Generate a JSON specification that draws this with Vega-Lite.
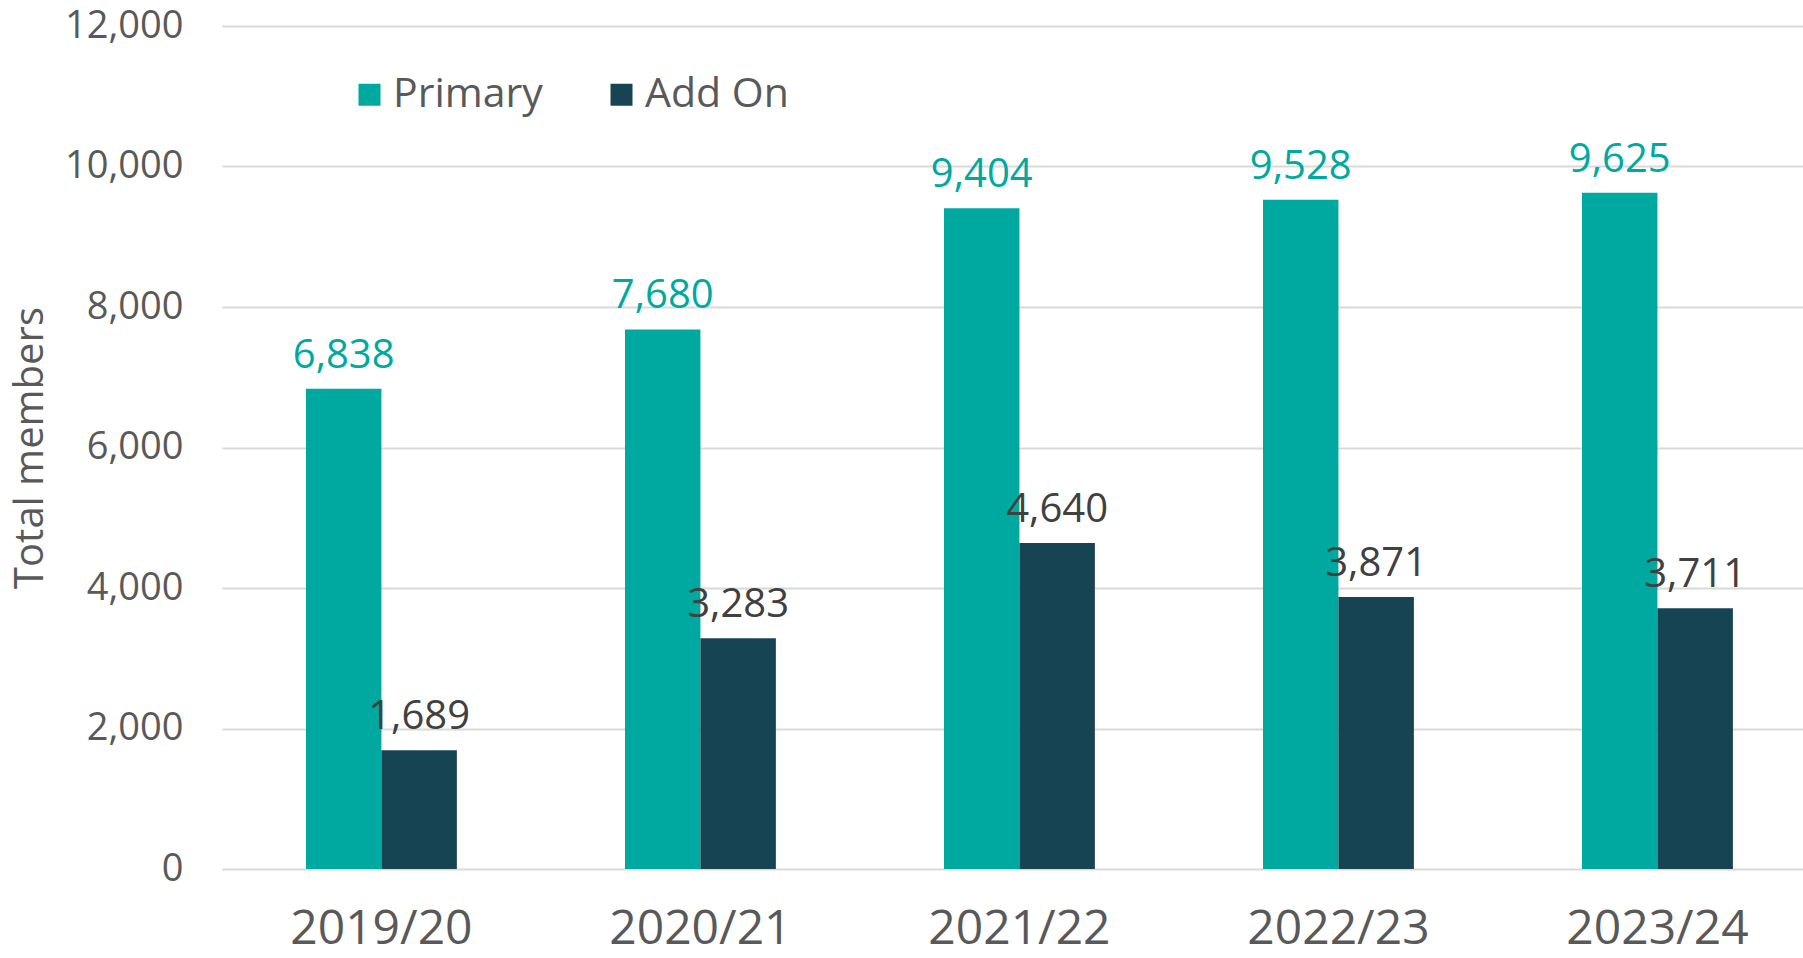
{
  "$schema": "https://vega.github.io/schema/vega-lite/v6.json",
  "autosize": {"type": "none"},
  "padding": {"left": 222, "top": 26, "right": 0, "bottom": 89},
  "width": 1581,
  "height": 843,
  "background": "white",
  "config": {
    "font": "Open Sans",
    "view": {"stroke": null},
    "axis": {"labelFont": "Open Sans", "titleFont": "Open Sans"}
  },
  "data": {
    "values": [
      {"year": "2019/20", "series": "Primary", "members": 6838},
      {"year": "2019/20", "series": "Add On", "members": 1689},
      {"year": "2020/21", "series": "Primary", "members": 7680},
      {"year": "2020/21", "series": "Add On", "members": 3283},
      {"year": "2021/22", "series": "Primary", "members": 9404},
      {"year": "2021/22", "series": "Add On", "members": 4640},
      {"year": "2022/23", "series": "Primary", "members": 9528},
      {"year": "2022/23", "series": "Add On", "members": 3871},
      {"year": "2023/24", "series": "Primary", "members": 9625},
      {"year": "2023/24", "series": "Add On", "members": 3711}
    ]
  },
  "encoding": {
    "x": {
      "field": "year",
      "type": "nominal",
      "sort": null,
      "scale": {"paddingInner": 0.527, "paddingOuter": 0.2415, "align": 0.545},
      "axis": {
        "title": null,
        "labelAngle": 0,
        "labelFontSize": 48,
        "labelColor": "#595959",
        "labelPadding": 36,
        "labelLimit": 500,
        "ticks": false,
        "domain": false,
        "grid": false
      }
    },
    "xOffset": {
      "field": "series",
      "type": "nominal",
      "sort": ["Primary", "Add On"],
      "scale": {"paddingInner": 0, "paddingOuter": 0}
    },
    "y": {
      "field": "members",
      "type": "quantitative",
      "scale": {"domain": [0, 12000], "nice": false},
      "axis": {
        "title": "Total members",
        "titleFontSize": 40,
        "titleFontWeight": "normal",
        "titleColor": "#595959",
        "titlePadding": 14,
        "values": [0, 2000, 4000, 6000, 8000, 10000, 12000],
        "format": ",.0f",
        "labelFontSize": 38,
        "labelColor": "#595959",
        "labelPadding": 39,
        "ticks": false,
        "domain": false,
        "grid": true,
        "gridColor": "#d9d9d9",
        "gridWidth": 2
      }
    }
  },
  "layer": [
    {
      "mark": {"type": "bar"},
      "encoding": {
        "color": {
          "field": "series",
          "type": "nominal",
          "sort": ["Primary", "Add On"],
          "scale": {"domain": ["Primary", "Add On"], "range": ["#00A9A0", "#174452"]},
          "legend": {
            "title": null,
            "orient": "none",
            "direction": "horizontal",
            "legendX": 127,
            "legendY": 48,
            "symbolType": "square",
            "symbolSize": 484,
            "symbolStrokeWidth": 0,
            "labelFontSize": 41,
            "labelColor": "#595959",
            "labelOffset": 3,
            "labelLimit": 400,
            "columnPadding": 58,
            "padding": 0
          }
        }
      }
    },
    {
      "mark": {"type": "text", "dy": -21, "baseline": "alphabetic", "fontSize": 40},
      "encoding": {
        "text": {"field": "members", "type": "quantitative", "format": ",.0f"},
        "color": {
          "condition": {"test": "datum.series === 'Primary'", "value": "#00A9A0"},
          "value": "#404040"
        }
      }
    }
  ]
}
